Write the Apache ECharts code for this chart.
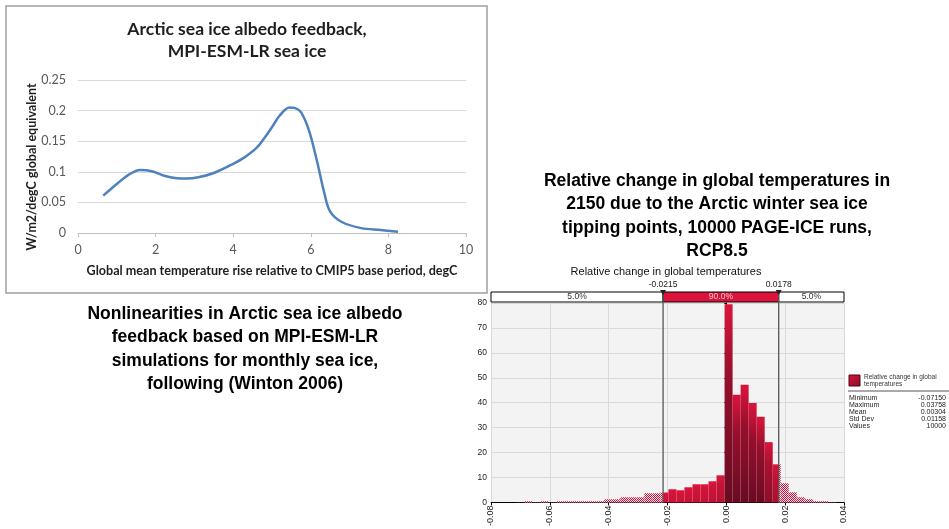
<!DOCTYPE html>
<html><head><meta charset="utf-8">
<script src="https://cdn.jsdelivr.net/npm/echarts@6/dist/echarts.min.js"></script>
<style>html,body{margin:0;padding:0;background:#fff}#c{width:949px;height:529px}</style>
</head><body><div id="c"></div>
<script>
// ---- Left chart: Arctic sea ice albedo feedback ----
const albedoX = [0.65, 1.0, 1.3, 1.6, 1.9, 2.2, 2.5, 2.8, 3.1, 3.5, 4.0, 4.3, 4.6, 4.8, 5.0, 5.2, 5.45, 5.6, 5.75, 5.95, 6.15, 6.35, 6.5, 6.8, 7.3, 7.8, 8.25];
const albedoY = [0.061, 0.080, 0.095, 0.103, 0.101, 0.094, 0.090, 0.089, 0.091, 0.098, 0.113, 0.124, 0.139, 0.155, 0.173, 0.192, 0.205, 0.204, 0.197, 0.168, 0.120, 0.065, 0.035, 0.018, 0.008, 0.005, 0.002];

// ---- Right chart: histogram (density) ----
const histMin = -0.07150;
const histMax = 0.03758;
const histHeights = [0.04, 0.5, 0.1, 0.5, 0.1, 0.5, 0.5, 0.5, 0.5, 0.5, 0.5, 1.3, 1.3, 2.1, 2.1, 2.1, 3.7, 3.7,
  4.0, 5.3, 4.9, 6.1, 7.3, 7.3, 8.5, 10.9, 79.5, 43.2, 47.2, 39.9, 34.4, 24.2, 15.3,
  7.7, 4.1, 2.1, 1.3, 0.5, 0.5, 0.1];
const cutLow = -0.0215;
const cutHigh = 0.0178;
const cutLabels = ['-0.0215', '0.0178'];
const bandEdges = [-0.08, cutLow, cutHigh, 0.04];
const bandLabels = ['5.0%', '90.0%', '5.0%'];
const statNames = ['Minimum', 'Maximum', 'Mean', 'Std Dev', 'Values'];
const statValues = ['-0.07150', '0.03758', '0.00304', '0.01158', '10000'];

const CRIMSON = '#dc143c';
const DARK = '#5c0a1e';

function mix(c1, c2, t) {
  const a = parseInt(c1.slice(1), 16), b = parseInt(c2.slice(1), 16);
  const r = Math.round(((a >> 16) & 255) * (1 - t) + ((b >> 16) & 255) * t);
  const g = Math.round(((a >> 8) & 255) * (1 - t) + ((b >> 8) & 255) * t);
  const bl = Math.round((a & 255) * (1 - t) + (b & 255) * t);
  return 'rgb(' + r + ',' + g + ',' + bl + ')';
}

// hatch pattern
const pc = document.createElement('canvas');
pc.width = 4; pc.height = 4;
const pctx = pc.getContext('2d');
pctx.fillStyle = '#fbe3e8'; pctx.fillRect(0, 0, 4, 4);
pctx.fillStyle = '#c8123c';
for (let i = 0; i < 4; i++) { pctx.fillRect(i, i, 1, 1); pctx.fillRect((i + 2) % 4, i, 1, 1); }
const hatchFill = { type: 'pattern', image: pc, repeat: 'repeat' };

function solidFill(h) {
  const t = Math.min(1, h / 35) * 0.9;
  return new echarts.graphic.LinearGradient(0, 0, 0, 1, [
    { offset: 0, color: CRIMSON },
    { offset: 0.35, color: mix(CRIMSON, DARK, t * 0.6) },
    { offset: 1, color: mix(CRIMSON, DARK, t) }
  ]);
}

const binW = (histMax - histMin) / histHeights.length;
const histData = histHeights.map((h, i) => [histMin + i * binW, histMin + (i + 1) * binW, h]);

function renderHist(params, api) {
  const x0 = api.value(0), x1 = api.value(1), h = api.value(2);
  const segs = [[x0, Math.min(x1, cutLow), true], [Math.max(x0, cutLow), Math.min(x1, cutHigh), false], [Math.max(x0, cutHigh), x1, true]];
  const children = [];
  for (const [a, b, hatch] of segs) {
    if (b <= a) continue;
    const p0 = api.coord([a, h]);
    const p1 = api.coord([b, 0]);
    children.push({
      type: 'rect',
      shape: { x: p0[0], y: p0[1], width: p1[0] - p0[0], height: p1[1] - p0[1] },
      style: { fill: hatch ? hatchFill : solidFill(h) }
    });
  }
  return { type: 'group', children };
}

const bandData = bandLabels.map((l, i) => [bandEdges[i], bandEdges[i + 1], l]);
function renderBand(params, api) {
  const a = api.coord([api.value(0), 80]);
  const b = api.coord([api.value(1), 80]);
  const mid = params.dataIndex === 1;
  return {
    type: 'group', children: [
      { type: 'rect', shape: { x: a[0], y: a[1] - 11, width: b[0] - a[0], height: 10 },
        style: { fill: mid ? CRIMSON : '#ffffff', stroke: '#000', lineWidth: 1 } },
      { type: 'text', x: (a[0] + b[0]) / 2, y: a[1] - 6,
        style: { text: api.value(2), align: 'center', verticalAlign: 'middle',
          font: '8.5px "Liberation Sans"', fill: mid ? '#f6c9d2' : '#333' } }
    ]
  };
}

const cutData = [[cutLow, cutLabels[0]], [cutHigh, cutLabels[1]]];
function renderCut(params, api) {
  const top = api.coord([api.value(0), 80]);
  const bot = api.coord([api.value(0), 0]);
  const x = top[0];
  return {
    type: 'group', children: [
      { type: 'line', shape: { x1: x, y1: top[1] - 11, x2: x, y2: bot[1] }, style: { stroke: '#555', lineWidth: 1.3 } },
      { type: 'polygon', shape: { points: [[x - 3, top[1] - 13], [x + 3, top[1] - 13], [x, top[1] - 8]] }, style: { fill: '#222' } },
      { type: 'text', x: x, y: top[1] - 18, style: { text: api.value(1), align: 'center', verticalAlign: 'middle', font: '8.5px "Liberation Sans"', fill: '#222' } }
    ]
  };
}

const chart = echarts.init(document.getElementById('c'), null, { renderer: 'canvas' });

const graphics = [
  { type: 'rect', shape: { x: 6, y: 6, width: 481, height: 287 }, style: { fill: 'none', stroke: '#a0a0a0', lineWidth: 1.5 }, z: 0 },
  { type: 'text', x: 247, y: 40, style: { text: 'Arctic sea ice albedo feedback,\nMPI-ESM-LR sea ice', align: 'center', verticalAlign: 'middle', lineHeight: 22, font: 'bold 17.5px Lato', fill: '#1e1e1e' } },
  { type: 'text', x: 32, y: 167, rotation: Math.PI / 2, style: { text: 'W/m2/degC global equivalent', align: 'center', verticalAlign: 'middle', font: 'bold 12.5px Lato', fill: '#1e1e1e' } },
  { type: 'text', x: 272, y: 271, style: { text: 'Global mean temperature rise relative to CMIP5 base period, degC', align: 'center', verticalAlign: 'middle', font: 'bold 12.6px Lato', fill: '#1e1e1e' } },
  { type: 'text', x: 245, y: 349, style: { text: 'Nonlinearities in Arctic sea ice albedo\nfeedback based on MPI-ESM-LR\nsimulations for monthly sea ice,\nfollowing (Winton 2006)', align: 'center', verticalAlign: 'middle', lineHeight: 23.5, font: 'bold 17.5px "Liberation Sans"', fill: '#000' } },
  { type: 'text', x: 717, y: 216, style: { text: 'Relative change in global temperatures in\n2150 due to the Arctic winter sea ice\ntipping points, 10000 PAGE-ICE runs,\nRCP8.5', align: 'center', verticalAlign: 'middle', lineHeight: 23.5, font: 'bold 17.5px "Liberation Sans"', fill: '#000' } },
  { type: 'text', x: 666, y: 272, style: { text: 'Relative change in global temperatures', align: 'center', verticalAlign: 'middle', font: '11px "Liberation Sans"', fill: '#111' } },
  // legend
  { type: 'rect', shape: { x: 849, y: 375, width: 11, height: 11 }, style: { fill: new echarts.graphic.LinearGradient(0, 0, 1, 1, [{ offset: 0, color: CRIMSON }, { offset: 1, color: '#8a0c2a' }]), stroke: '#4a0818', lineWidth: 1 } },
  { type: 'text', x: 864, y: 381, style: { text: 'Relative change in global\ntemperatures', align: 'left', verticalAlign: 'middle', lineHeight: 7, font: '6.5px "Liberation Sans"', fill: '#333' } },
  { type: 'line', shape: { x1: 848, y1: 391, x2: 949, y2: 391 }, style: { stroke: '#555', lineWidth: 1 } }
];
statNames.forEach((n, i) => {
  graphics.push({ type: 'text', x: 849, y: 398 + i * 6.9, style: { text: n, align: 'left', verticalAlign: 'middle', font: '7px "Liberation Sans"', fill: '#222' } });
  graphics.push({ type: 'text', x: 946, y: 398 + i * 6.9, style: { text: statValues[i], align: 'right', verticalAlign: 'middle', font: '7px "Liberation Sans"', fill: '#222' } });
});

const option = {
  animation: false,
  backgroundColor: '#ffffff',
  grid: [
    { left: 78, top: 80, width: 388, height: 153 },
    { left: 491, top: 303, width: 353, height: 200, show: true, backgroundColor: '#f3f3f3', borderWidth: 0 }
  ],
  xAxis: [
    { type: 'value', gridIndex: 0, min: 0, max: 10, interval: 2,
      axisLine: { show: true, lineStyle: { color: '#bfbfbf' } },
      axisTick: { show: true, length: 4, lineStyle: { color: '#bfbfbf' } },
      splitLine: { show: false },
      axisLabel: { margin: 10, color: '#595959', fontFamily: 'Lato', fontSize: 12.5 } },
    { type: 'value', gridIndex: 1, min: -0.08, max: 0.04, interval: 0.02,
      axisLine: { show: true, onZero: false, lineStyle: { color: '#000' } },
      axisTick: { show: true, length: 3, lineStyle: { color: '#000' } },
      splitLine: { show: true, lineStyle: { color: '#d9d9d9' } },
      axisLabel: { rotate: 90, margin: 3, color: '#222', fontFamily: 'Liberation Sans', fontSize: 9,
        formatter: v => v.toFixed(2), showMinLabel: true, showMaxLabel: true } }
  ],
  yAxis: [
    { type: 'value', gridIndex: 0, min: 0, max: 0.25, interval: 0.05,
      axisLine: { show: false }, axisTick: { show: false },
      splitLine: { show: true, lineStyle: { color: '#d9d9d9' } },
      axisLabel: { margin: 12, color: '#595959', fontFamily: 'Lato', fontSize: 12.5 } },
    { type: 'value', gridIndex: 1, min: 0, max: 80, interval: 10,
      axisLine: { show: true, lineStyle: { color: '#000' } },
      axisTick: { show: true, length: 2, lineStyle: { color: '#000' } },
      splitLine: { show: true, lineStyle: { color: '#d9d9d9' } },
      axisLabel: { margin: 4, color: '#222', fontFamily: 'Liberation Sans', fontSize: 8.5 } }
  ],
  series: [
    { type: 'line', xAxisIndex: 0, yAxisIndex: 0, data: albedoX.map((x, i) => [x, albedoY[i]]),
      smooth: 0.35, showSymbol: false, symbol: 'none', lineStyle: { color: '#4f81bd', width: 2.5 } },
    { type: 'custom', xAxisIndex: 1, yAxisIndex: 1, data: histData, renderItem: renderHist, clip: false },
    { type: 'custom', xAxisIndex: 1, yAxisIndex: 1, data: bandData, renderItem: renderBand, clip: false, z: 3 },
    { type: 'custom', xAxisIndex: 1, yAxisIndex: 1, data: cutData, renderItem: renderCut, clip: false, z: 4 }
  ],
  graphic: graphics
};
chart.setOption(option);
</script>
</body></html>
